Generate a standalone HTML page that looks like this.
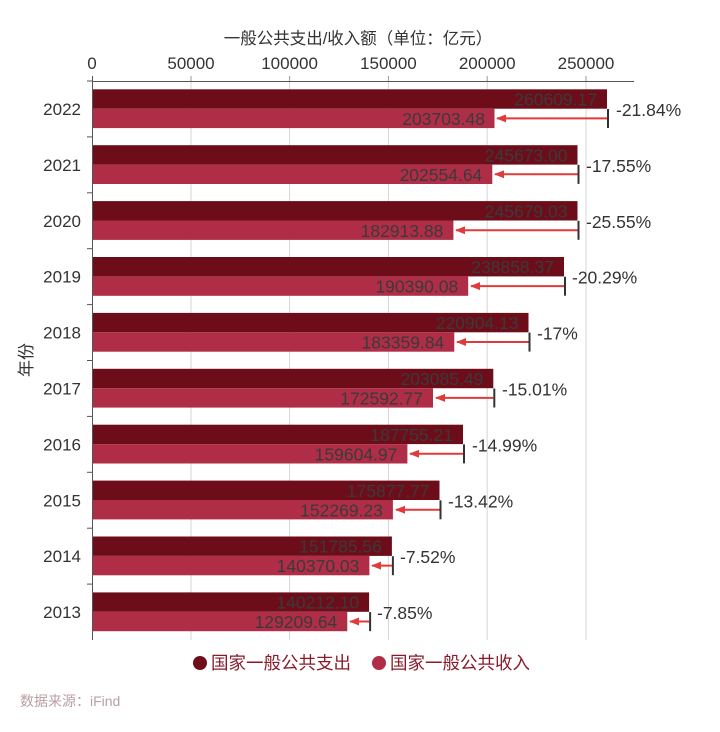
<!DOCTYPE html>
<html><head><meta charset="utf-8"><style>
body{margin:0;background:#fff;}
svg{display:block;font-family:"Liberation Sans","Noto Sans CJK SC",sans-serif;}
.v{font-size:17.5px;fill:#3a3a3a;text-anchor:end;}
.p{font-size:17.5px;fill:#333;}
.t{font-size:17px;fill:#333;}
</style></head><body>
<svg width="720" height="732" viewBox="0 0 720 732">
<defs><marker id="ah" markerWidth="10" markerHeight="8" refX="9" refY="4" orient="auto" markerUnits="userSpaceOnUse"><path d="M0,0 L10,4 L0,8 Z" fill="#e03a3a"/></marker></defs>
<text x="358" y="44" font-size="16.5" fill="#333" text-anchor="middle">一般公共支出/收入额（单位：亿元）</text>
<g class="t" text-anchor="middle">
<text x="92" y="69">0</text><text x="191" y="69">50000</text><text x="289.6" y="69">100000</text><text x="388.4" y="69">150000</text><text x="487.2" y="69">200000</text><text x="586" y="69">250000</text>
</g>
<g stroke="#d6d6d6" stroke-width="1">
<line x1="191" y1="81" x2="191" y2="640"/><line x1="289.6" y1="81" x2="289.6" y2="640"/><line x1="388.4" y1="81" x2="388.4" y2="640"/><line x1="487.2" y1="81" x2="487.2" y2="640"/><line x1="586" y1="81" x2="586" y2="640"/>
</g>
<line x1="92" y1="81.5" x2="634" y2="81.5" stroke="#555" stroke-width="1"/>
<g stroke="#999"><line x1="191" y1="76" x2="191" y2="81"/><line x1="289.6" y1="76" x2="289.6" y2="81"/><line x1="388.4" y1="76" x2="388.4" y2="81"/><line x1="487.2" y1="76" x2="487.2" y2="81"/><line x1="586" y1="76" x2="586" y2="81"/></g>
<line x1="92.5" y1="76" x2="92.5" y2="640" stroke="#555"/>
<g stroke="#555"><line x1="87" y1="81" x2="92" y2="81"/><line x1="87" y1="136.9" x2="92" y2="136.9"/><line x1="87" y1="192.8" x2="92" y2="192.8"/><line x1="87" y1="248.7" x2="92" y2="248.7"/><line x1="87" y1="304.6" x2="92" y2="304.6"/><line x1="87" y1="360.5" x2="92" y2="360.5"/><line x1="87" y1="416.4" x2="92" y2="416.4"/><line x1="87" y1="472.3" x2="92" y2="472.3"/><line x1="87" y1="528.2" x2="92" y2="528.2"/><line x1="87" y1="584.1" x2="92" y2="584.1"/></g>
<text transform="translate(32,360) rotate(-90)" class="t" text-anchor="middle">年份</text>

<g transform="translate(0,81)">
<text x="81" y="34" class="t" text-anchor="end">2022</text>
<rect x="93" y="8.3" width="514" height="19.4" fill="#6e0d1a"/><rect x="93" y="27.7" width="401.5" height="19.4" fill="#b02d48"/>
<text x="597" y="24.5" class="v">260609.17</text><text x="485" y="44" class="v">203703.48</text>
<line x1="607" y1="37.4" x2="497" y2="37.4" stroke="#e03a3a" stroke-width="2" marker-end="url(#ah)"/><line x1="608" y1="28" x2="608" y2="47" stroke="#333" stroke-width="2"/>
<text x="616" y="35" class="p">-21.84%</text></g>

<g transform="translate(0,136.9)">
<text x="81" y="34" class="t" text-anchor="end">2021</text>
<rect x="93" y="8.3" width="484.5" height="19.4" fill="#6e0d1a"/><rect x="93" y="27.7" width="399.3" height="19.4" fill="#b02d48"/>
<text x="567.5" y="24.5" class="v">245673.00</text><text x="482.3" y="44" class="v">202554.64</text>
<line x1="577.5" y1="37.4" x2="495" y2="37.4" stroke="#e03a3a" stroke-width="2" marker-end="url(#ah)"/><line x1="578.5" y1="28" x2="578.5" y2="47" stroke="#333" stroke-width="2"/>
<text x="586" y="35" class="p">-17.55%</text></g>

<g transform="translate(0,192.8)">
<text x="81" y="34" class="t" text-anchor="end">2020</text>
<rect x="93" y="8.3" width="484.5" height="19.4" fill="#6e0d1a"/><rect x="93" y="27.7" width="360.4" height="19.4" fill="#b02d48"/>
<text x="567.5" y="24.5" class="v">245679.03</text><text x="443.4" y="44" class="v">182913.88</text>
<line x1="577.5" y1="37.4" x2="456" y2="37.4" stroke="#e03a3a" stroke-width="2" marker-end="url(#ah)"/><line x1="578.5" y1="28" x2="578.5" y2="47" stroke="#333" stroke-width="2"/>
<text x="586" y="35" class="p">-25.55%</text></g>

<g transform="translate(0,248.7)">
<text x="81" y="34" class="t" text-anchor="end">2019</text>
<rect x="93" y="8.3" width="471" height="19.4" fill="#6e0d1a"/><rect x="93" y="27.7" width="375.2" height="19.4" fill="#b02d48"/>
<text x="554" y="24.5" class="v">238858.37</text><text x="458.2" y="44" class="v">190390.08</text>
<line x1="564" y1="37.4" x2="471" y2="37.4" stroke="#e03a3a" stroke-width="2" marker-end="url(#ah)"/><line x1="565" y1="28" x2="565" y2="47" stroke="#333" stroke-width="2"/>
<text x="572" y="35" class="p">-20.29%</text></g>

<g transform="translate(0,304.6)">
<text x="81" y="34" class="t" text-anchor="end">2018</text>
<rect x="93" y="8.3" width="435.5" height="19.4" fill="#6e0d1a"/><rect x="93" y="27.7" width="361.3" height="19.4" fill="#b02d48"/>
<text x="518.5" y="24.5" class="v">220904.13</text><text x="444.3" y="44" class="v">183359.84</text>
<line x1="528.5" y1="37.4" x2="457" y2="37.4" stroke="#e03a3a" stroke-width="2" marker-end="url(#ah)"/><line x1="529.5" y1="28" x2="529.5" y2="47" stroke="#333" stroke-width="2"/>
<text x="537" y="35" class="p">-17%</text></g>

<g transform="translate(0,360.5)">
<text x="81" y="34" class="t" text-anchor="end">2017</text>
<rect x="93" y="8.3" width="400.3" height="19.4" fill="#6e0d1a"/><rect x="93" y="27.7" width="340" height="19.4" fill="#b02d48"/>
<text x="483.3" y="24.5" class="v">203085.49</text><text x="423" y="44" class="v">172592.77</text>
<line x1="493.3" y1="37.4" x2="436" y2="37.4" stroke="#e03a3a" stroke-width="2" marker-end="url(#ah)"/><line x1="494.3" y1="28" x2="494.3" y2="47" stroke="#333" stroke-width="2"/>
<text x="502" y="35" class="p">-15.01%</text></g>

<g transform="translate(0,416.4)">
<text x="81" y="34" class="t" text-anchor="end">2016</text>
<rect x="93" y="8.3" width="370" height="19.4" fill="#6e0d1a"/><rect x="93" y="27.7" width="314.4" height="19.4" fill="#b02d48"/>
<text x="453" y="24.5" class="v">187755.21</text><text x="397.4" y="44" class="v">159604.97</text>
<line x1="463" y1="37.4" x2="410" y2="37.4" stroke="#e03a3a" stroke-width="2" marker-end="url(#ah)"/><line x1="464" y1="28" x2="464" y2="47" stroke="#333" stroke-width="2"/>
<text x="472" y="35" class="p">-14.99%</text></g>

<g transform="translate(0,472.3)">
<text x="81" y="34" class="t" text-anchor="end">2015</text>
<rect x="93" y="8.3" width="346.5" height="19.4" fill="#6e0d1a"/><rect x="93" y="27.7" width="299.9" height="19.4" fill="#b02d48"/>
<text x="429.5" y="24.5" class="v">175877.77</text><text x="382.9" y="44" class="v">152269.23</text>
<line x1="439.5" y1="37.4" x2="396" y2="37.4" stroke="#e03a3a" stroke-width="2" marker-end="url(#ah)"/><line x1="440.5" y1="28" x2="440.5" y2="47" stroke="#333" stroke-width="2"/>
<text x="448" y="35" class="p">-13.42%</text></g>

<g transform="translate(0,528.2)">
<text x="81" y="34" class="t" text-anchor="end">2014</text>
<rect x="93" y="8.3" width="298.9" height="19.4" fill="#6e0d1a"/><rect x="93" y="27.7" width="276.4" height="19.4" fill="#b02d48"/>
<text x="381.9" y="24.5" class="v">151785.56</text><text x="359.4" y="44" class="v">140370.03</text>
<line x1="391.9" y1="37.4" x2="372" y2="37.4" stroke="#e03a3a" stroke-width="2" marker-end="url(#ah)"/><line x1="392.9" y1="28" x2="392.9" y2="47" stroke="#333" stroke-width="2"/>
<text x="400" y="35" class="p">-7.52%</text></g>

<g transform="translate(0,584.1)">
<text x="81" y="34" class="t" text-anchor="end">2013</text>
<rect x="93" y="8.3" width="276.1" height="19.4" fill="#6e0d1a"/><rect x="93" y="27.7" width="254.3" height="19.4" fill="#b02d48"/>
<text x="359.1" y="24.5" class="v">140212.10</text><text x="337.3" y="44" class="v">129209.64</text>
<line x1="369.1" y1="37.4" x2="350" y2="37.4" stroke="#e03a3a" stroke-width="2" marker-end="url(#ah)"/><line x1="370.1" y1="28" x2="370.1" y2="47" stroke="#333" stroke-width="2"/>
<text x="377" y="35" class="p">-7.85%</text></g>

<circle cx="200" cy="663" r="7" fill="#6e0d1a"/>
<text x="211" y="669" font-size="17.5" fill="#8a1a2a">国家一般公共支出</text>
<circle cx="379" cy="663" r="7" fill="#b02d48"/>
<text x="390" y="669" font-size="17.5" fill="#8a1a2a">国家一般公共收入</text>
<text x="20" y="706" font-size="14" fill="#b8a0a4">数据来源：iFind</text>
</svg>
</body></html>
